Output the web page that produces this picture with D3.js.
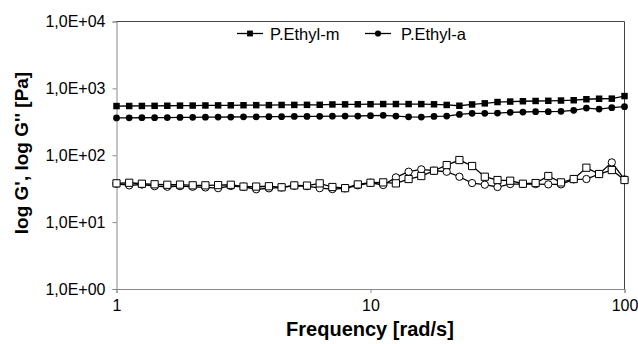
<!DOCTYPE html>
<html>
<head>
<meta charset="utf-8">
<script src="https://cdn.jsdelivr.net/npm/d3@7"></script>
<style>
  body { margin: 0; background: #fff; }
  svg { display: block; font-family: "Liberation Sans", Arial, sans-serif; }
</style>
</head>
<body>
<svg id="chart" width="638" height="344"></svg>
<script>
// frequency points, 20 per decade from 1 to 100 rad/s
const freqExp = d3.range(0, 41)
const freq = freqExp.map(i => Math.pow(10, i / 20))

// G' (filled markers)
const gpM = [544,545,546,548,550,552,553,555,557,558,560,561,562,565,566,567,568,575,577,578,580,
             583,583,583,582,578,565,550,575,597,625,635,642,648,652,658,665,688,700,702,767]
const gpA = [362,363,364,365,366,368,369,371,372,373,375,376,377,378,380,381,382,384,385,386,391,
             395,385,376,372,381,385,408,423,423,427,438,443,448,448,453,469,508,491,514,532]

// G'' (open markers)
const gppM = [38.0,38.8,37.5,36.8,36.2,36.4,35.5,35.5,35.8,36.2,34.0,34.0,34.4,33.2,35.4,35.2,38.0,33.5,32.2,36.6,38.8,
              39.3,38.0,44.1,48.9,58.7,71.3,84.8,69.0,47.7,42.6,41.6,37.5,38.4,48.9,39.3,44.1,65.1,52.4,60.1,42.6]
const gppA = [37.5,35.5,36.5,34.5,33.8,34.5,33.8,33.0,32.2,34.7,33.8,31.0,32.0,33.0,35.0,34.5,32.2,31.2,32.0,35.5,38.8,
              35.9,46.7,56.7,61.5,58.7,56.7,47.7,38.4,36.3,33.5,37.1,37.1,37.1,36.7,36.7,43.6,44.1,52.4,78.2,43.6]

const yTicks = [1, 10, 100, 1000, 10000]
const yTickLabels = ["1,0E+00", "1,0E+01", "1,0E+02", "1,0E+03", "1,0E+04"]
const xTicks = [1, 10, 100]
const legendNames = ["P.Ethyl-m", "P.Ethyl-a"]

const svg = d3.select("#chart")
const mLeft = 116.5, mRight = 624.5, mTop = 21.5, mBottom = 289

const x = d3.scaleLog().domain([1, 100]).range([mLeft, mRight])
const y = d3.scaleLog().domain([1, 10000]).range([mBottom, mTop])

// axes
const yAxis = d3.axisLeft(y).tickValues(yTicks).tickSize(4).tickPadding(7)
  .tickFormat((d, i) => yTickLabels[i])
const gy = svg.append("g").attr("transform", `translate(${mLeft},0)`).call(yAxis)
gy.select(".domain").attr("stroke", "#888")
gy.selectAll(".tick line").attr("stroke", "#888")
gy.selectAll("text").attr("font-size", "16px").attr("fill", "#000")
  .attr("font-family", "Liberation Sans, Arial, sans-serif")

const xAxis = d3.axisBottom(x).tickValues(xTicks).tickSize(4).tickPadding(7)
  .tickFormat(d3.format("d"))
const gx = svg.append("g").attr("transform", `translate(0,${mBottom})`).call(xAxis)
gx.select(".domain").attr("stroke", "#888")
gx.selectAll(".tick line").attr("stroke", "#888")
gx.selectAll("text").attr("font-size", "16px").attr("fill", "#000")
  .attr("font-family", "Liberation Sans, Arial, sans-serif")

// top and right border of plot area
svg.append("path")
  .attr("d", `M${mLeft},${mTop}H${mRight}V${mBottom}`)
  .attr("fill", "none").attr("stroke", "#444").attr("stroke-width", 1)

// titles
svg.append("text").attr("x", 370).attr("y", 336).attr("text-anchor", "middle")
  .attr("font-size", "20px").attr("font-weight", "bold").text("Frequency [rad/s]")
svg.append("text").attr("transform", "translate(28,153) rotate(-90)").attr("text-anchor", "middle")
  .attr("font-size", "19px").attr("font-weight", "bold").text("log G', log G'' [Pa]")

const line = d3.line().x(d => x(d[0])).y(d => y(d[1]))

function drawSeries(vals, shape, filled) {
  const pts = freq.map((f, i) => [f, vals[i]])
  const g = svg.append("g")
  g.append("path").datum(pts).attr("d", line)
    .attr("fill", "none").attr("stroke", "#000").attr("stroke-width", 1.3)
  const sym = d3.symbol().type(shape === "square" ? d3.symbolSquare : d3.symbolCircle)
    .size(shape === "square" ? (filled ? 42 : 52) : (filled ? 36 : 42))
  g.selectAll("path.m").data(pts).enter().append("path").attr("class", "m")
    .attr("transform", d => `translate(${x(d[0])},${y(d[1])})`)
    .attr("d", sym)
    .attr("fill", filled ? "#000" : "#fff")
    .attr("stroke", "#000").attr("stroke-width", filled ? 0 : 1)
}

drawSeries(gppA, "circle", false)
drawSeries(gppM, "square", false)
drawSeries(gpA, "circle", true)
drawSeries(gpM, "square", true)

// legend
const legend = [
  { name: legendNames[0], shape: d3.symbolSquare, size: 34, x0: 237, x1: 263, tx: 270 },
  { name: legendNames[1], shape: d3.symbolCircle, size: 30, x0: 365, x1: 391, tx: 401 }
]
const ly = 33.5
legend.forEach(l => {
  svg.append("line").attr("x1", l.x0).attr("x2", l.x1).attr("y1", ly).attr("y2", ly)
    .attr("stroke", "#000").attr("stroke-width", 1.3)
  svg.append("path").attr("d", d3.symbol().type(l.shape).size(l.size)())
    .attr("transform", `translate(${(l.x0 + l.x1) / 2},${ly})`).attr("fill", "#000")
  svg.append("text").attr("x", l.tx).attr("y", ly + 6).attr("font-size", "16.5px").text(l.name)
})
</script>
</body>
</html>
